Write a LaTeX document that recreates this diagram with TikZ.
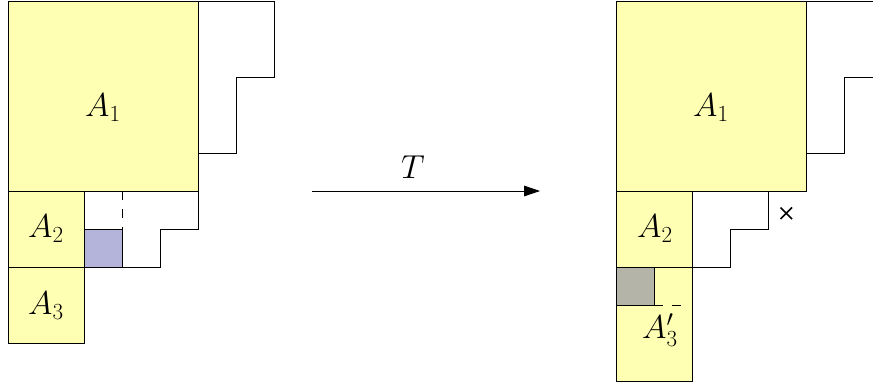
\documentclass[tikz,border=0pt]{standalone}
\usepackage{amsmath, amssymb}
\usepackage{tikz}
\usetikzlibrary{arrows.meta}

\definecolor{paleyellow}{RGB}{255,255,180}
\definecolor{palepurple}{RGB}{180,180,218}
\definecolor{palegrey}{RGB}{180,180,168}

\begin{document}
\begin{tikzpicture}[x=0.75pt,y=0.75pt,yscale=-1,xscale=1,
    region/.style={draw, fill=paleyellow, line width=0.6pt},
    edge/.style={line width=0.6pt},
    gap/.style={line width=0.6pt, dash pattern={on 7pt off 6.5pt}},
    lbl/.style={inner sep=0.75pt, font=\fontsize{24}{29}\selectfont}]
    \useasboundingbox (0,0) rectangle (873,383);
    \clip (0,0) rectangle (873,383);
    
    %Left diagram
    \draw [region] (8,1) rectangle (198,191);
    \draw [region] (8,191) rectangle (84,267);
    \draw [region] (8,267) rectangle (84,343);
    \draw [edge, fill=palepurple] (84,229) rectangle (122,267);
    %Staircases
    \draw [edge] (198,1) -- (274,1) -- (274,77) -- (236,77) -- (236,153) -- (198,153) ;
    \draw [edge] (198,191) -- (198,229) -- (160,229) -- (160,267) -- (84,267) ;
    \draw [gap] (122,191) -- (122,229) ;
    
    %Right diagram
    \draw [region] (616,1) rectangle (806,191);
    \draw [region] (616,191) rectangle (692,267);
    \draw [region] (616,267) rectangle (692,381);
    \draw [edge, fill=palegrey] (616,267) rectangle (654,305);
    %Staircases
    \draw [edge] (806,1) -- (882,1) -- (882,77) -- (844,77) -- (844,153) -- (806,153) ;
    \draw [edge] (692,191) -- (768,191) -- (768,229) -- (730,229) -- (730,267) -- (692,267) ;
    \draw [gap] (654,305) -- (683,305) ;
    %Cross mark
    \draw [line width=1.3pt] (780.5,207.5) -- (792,219) (780.5,219) -- (792,207.5) ;
    
    %Map arrow
    \coordinate (tstart) at (312,191);
    \coordinate (tend) at (540,191);
    \draw [edge, -{Triangle[length=12pt,width=8pt]}] (tstart) -- (tend) ;
    
    % Text Node
    \node [lbl] (mapT) at (413,167) {$T$};
    % Text Node
    \node [lbl] (leftA1) at (103,108) {$A_{1}$};
    % Text Node
    \node [lbl] (leftA2) at (46,229) {$A_{2}$};
    % Text Node
    \node [lbl] (leftA3) at (46,306) {$A_{3}$};
    % Text Node
    \node [lbl] (rightA1) at (711,108) {$A_{1}$};
    % Text Node
    \node [lbl] (rightA2) at (655,229) {$A_{2}$};
    % Text Node
    \node [lbl] (rightA3) at (660,330) {$A'_{3}$};
\end{tikzpicture}
\end{document}
